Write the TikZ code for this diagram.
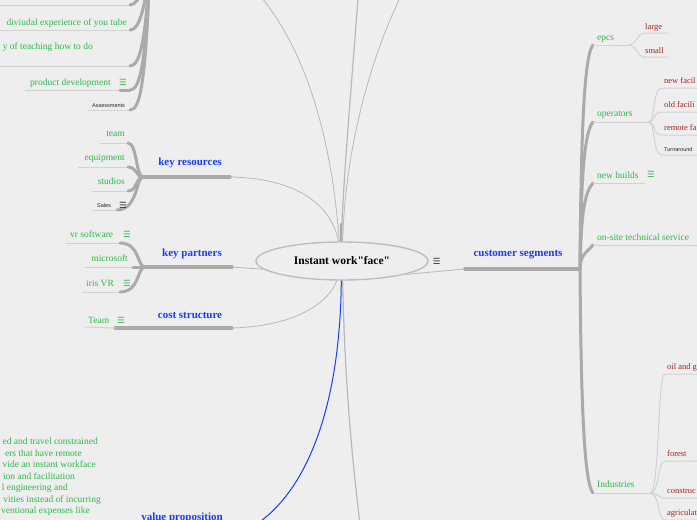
\documentclass[tikz,border=0pt]{standalone}
\usepackage{fontspec}
\setmainfont{Liberation Serif}[Ligatures=TeXOff]
\newfontfamily\tinysans{Liberation Sans}
\newfontfamily\symfont{DejaVu Sans}
\usetikzlibrary{positioning, shapes.geometric}

\definecolor{bgcol}{RGB}{238,238,238}
\definecolor{leafgreen}{RGB}{45,185,75}
\definecolor{branchblue}{RGB}{25,60,255}
\definecolor{twigred}{RGB}{165,35,35}
\definecolor{notegray}{RGB}{40,40,40}
\definecolor{trunkgray}{RGB}{170,170,170}
\definecolor{linkgray}{RGB}{185,185,185}
\definecolor{ulinegray}{RGB}{210,210,210}
\definecolor{ringgray}{RGB}{190,190,190}

\begin{document}
\begin{tikzpicture}[x=1pt, y=-1pt,
  trunk/.style={draw=trunkgray, line width=3pt, line cap=round},
  link/.style={draw=linkgray, line width=0.8pt},
  uline/.style={draw=ulinegray, line width=1pt},
  leaf/.style={text=leafgreen, font=\fontsize{9.5}{11}\selectfont, inner sep=0pt},
  branch/.style={text=branchblue, font=\bfseries\fontsize{11}{12}\selectfont, inner sep=0pt},
  twig/.style={text=twigred, font=\fontsize{8.5}{10}\selectfont, inner sep=0pt, anchor=base west},
  note/.style={text=notegray, font=\tinysans\fontsize{5.5}{6}\selectfont, inner sep=0pt, anchor=base west},
  menu/.style={font=\symfont\fontsize{8.5}{9}\selectfont, inner sep=0pt},
  root/.style={ellipse, draw=ringgray, line width=1.4pt, fill=bgcol, minimum width=172pt,
    minimum height=38pt, inner sep=0pt, font=\bfseries\fontsize{11.5}{13}\selectfont},
]
  % 背景与裁剪
  \fill[bgcol] (0,0) rectangle (697,520);
  \useasboundingbox (0,0) rectangle (697,520);
  \clip (0,0) rectangle (697,520);

  % 中心主题
  \node[root] (root) at (342,261) {Instant work"face"};
  \node[menu, text=notegray, right=4pt of root] (rootmenu) {☰};

  % 上方被截的分支连线
  \draw[link] (root.98) .. controls (335,180) and (320,70) .. (262,-2) coordinate (upA);
  \draw[link, line width=1.2pt] (root.92) .. controls (343,180) and (352,80) .. (358,-2) coordinate (upB);
  \draw[trunk, line width=2.5pt, line cap=butt] (root.92) -- ++(-0.3,-18);
  \draw[link] (root.88) .. controls (345,150) and (370,60) .. (400,-2) coordinate (upC);

  % 客户细分
  \coordinate (csL) at (465,269);
  \coordinate (csJ) at (580,269);
  \draw[link] (root.-12) -- (csL);
  \draw[trunk, line width=3.5pt] (csL) -- (csJ);
  \node[branch] (cs) at (518,255) {customer segments};

  % 右侧主干
  \foreach \name/\y in {epcs/45, ops/122, nb/183, ots/245} {
    \coordinate (\name L) at (593,\y);
    \draw[trunk] (csJ) .. controls (581,{\y+0.4*(269-\y)}) and (584,{\y+10}) .. (\name L);
  }
  \coordinate (indL) at (593,493);
  \draw[trunk] (csJ) .. controls (581,400) and (584,483) .. (indL);

  % epcs
  \node[leaf, anchor=base west] (epcs) at (597,40) {epcs};
  \draw[uline] (epcsL) -- (628,45) coordinate (epcsR);
  \foreach \name/\y in {large/33, small/57} {
    \draw[uline] (epcsR) .. controls (638,45) and (636,\y) .. (645,\y) -- (668,\y);
    \node[twig] (\name) at (645,{\y-4}) {\name};
  }

  % operators
  \node[leaf, anchor=base west] (ops) at (597,116) {operators};
  \draw[uline] (opsL) -- (648,122) coordinate (opsR);
  \foreach \y/\txt in {88/new facil, 112/old facili, 135/remote fa} {
    \draw[uline] (opsR) .. controls (656,122) and (652,\y) .. (662,\y) -- (700,\y);
    \node[twig] (op\y) at (664,{\y-5}) {\txt};
  }
  \draw[uline] (opsR) .. controls (656,122) and (652,155) .. (662,155) -- (700,155);
  \node[note] (turn) at (664,151) {Turnaround};

  % new builds
  \node[leaf, anchor=base west] (nb) at (597,178) {new builds};
  \node[menu, text=leafgreen, right=8pt of nb] (nbmenu) {☰};
  \draw[uline] (nbL) -- (645,183);

  % on-site technical service
  \node[leaf, anchor=base west] (ots) at (597,240) {on-site technical service};
  \draw[uline] (otsL) -- (700,245);

  % Industries
  \node[leaf, anchor=base west] (ind) at (597,487) {Industries};
  \draw[uline] (indL) -- (650,493) coordinate (indR);
  \foreach \y/\txt in {374/oil and g, 461/forest, 498/construc, 520/agriculat} {
    \draw[uline] (indR) .. controls (660,493) and (657,\y) .. (665,\y) -- (700,\y);
    \node[twig] (in\y) at (667,{\y-5}) {\txt};
  }

  % 左上分支（上方被截）
  \coordinate (tlJ) at (150,-40);
  \foreach \name/\y/\x in {tA/5/0, tB/30/0, tC/66/0, tD/90/25, tE/110/88} {
    \coordinate (\name R) at (130,\y);
    \draw[uline] (\x,\y) -- (\name R);
    \draw[trunk] (tlJ) .. controls (146,{\y-25}) and (140,\y) .. (\name R);
  }
  \draw[trunk] (tDR) -- (120,90);
  \node[leaf, anchor=base east] (yt) at (127,25) {diviudal experience of you tube};
  \node[leaf, anchor=base east] (teach) at (93,49) {y of teaching how to do};
  \node[leaf, anchor=base west] (pd) at (30,85) {product development};
  \node[menu, text=leafgreen, right=8pt of pd] (pdmenu) {☰};
  \node[note] (assess) at (92,107) {Assessments};

  % key resources
  \coordinate (krJ) at (143,177);
  \coordinate (krR) at (230,177);
  \draw[trunk, line width=3.5pt] (krJ) -- (krR);
  \draw[link] (krR) .. controls (290,178) and (330,200) .. (root.100);
  \node[branch] (kr) at (190,163) {key resources};
  \foreach \name/\y/\x/\txt in {team/143/100/team, equip/167/78/equipment, studio/191/92/studios} {
    \coordinate (\name R) at (128,\y);
    \draw[uline] (\x,\y) -- (\name R);
    \draw[trunk] (krJ) .. controls (136,177) and (137,\y) .. (\name R);
    \node[leaf, anchor=base east] (\name) at (125,{\y-7}) {\txt};
  }
  \coordinate (salesR) at (117,210);
  \draw[uline] (92,210) -- (salesR);
  \draw[trunk] (krJ) .. controls (136,177) and (138,210) .. (salesR);
  \node[note] (sales) at (97,207) {Sales};
  \node[menu, text=notegray] (salesmenu) at (123,205) {☰};

  % key partners
  \coordinate (kpJ) at (145,267);
  \coordinate (kpR) at (232,267);
  \draw[trunk, line width=3.5pt] (kpJ) -- (kpR);
  \draw[link] (kpR) -- (root.186);
  \node[branch] (kp) at (192,254) {key partners};
  \coordinate (vrR) at (120,243);
  \coordinate (msR) at (133,267);
  \coordinate (irisR) at (120,292);
  \draw[uline] (65,243) -- (vrR);
  \draw[uline] (85,267) -- (msR);
  \draw[uline] (82,292) -- (irisR);
  \draw[trunk] (kpJ) .. controls (137,267) and (140,243) .. (vrR);
  \draw[trunk] (kpJ) -- (msR);
  \draw[trunk] (kpJ) .. controls (137,267) and (140,292) .. (irisR);
  \node[leaf, anchor=base west] (vr) at (70,237) {vr software};
  \node[menu, text=leafgreen] (vrmenu) at (127,234) {☰};
  \node[leaf, anchor=base east] (ms) at (128,261) {microsoft};
  \node[leaf, anchor=base west] (iris) at (86,286) {iris VR};
  \node[menu, text=leafgreen] (irismenu) at (127,283) {☰};

  % cost structure
  \coordinate (costL) at (115,328);
  \coordinate (costR) at (232,328);
  \draw[trunk, line width=3.5pt] (costL) -- (costR);
  \draw[link] (costR) .. controls (300,326) and (330,300) .. (root.255);
  \node[branch] (cost) at (190,315) {cost structure};
  \draw[uline] (85,327) -- (costL);
  \node[leaf, anchor=base west] (teamc) at (88,323) {Team};
  \node[menu, text=leafgreen] (teamcmenu) at (121,320) {☰};

  % value proposition
  \draw[branchblue, line width=1pt] (root.268) .. controls (340,420) and (300,500) .. (250,528) coordinate (vpR);
  \draw[link, line width=1.2pt] (root.272) .. controls (345,400) and (355,480) .. (360,525) coordinate (downR);
  \node[branch] (vp) at (182,518) {value proposition};
  \foreach \x/\y/\txt in {98/444/ed and travel constrained, 82/456/ers that have remote,
      96/467/vide an instant workface, 75/479/ion and facilitation, 68/490/l engineering and,
      101/502/vities instead of incurring, 90/513/ventional expenses like} {
    \node[leaf, anchor=base east] (vp\y) at (\x,\y) {\txt};
  }
\end{tikzpicture}
\end{document}
